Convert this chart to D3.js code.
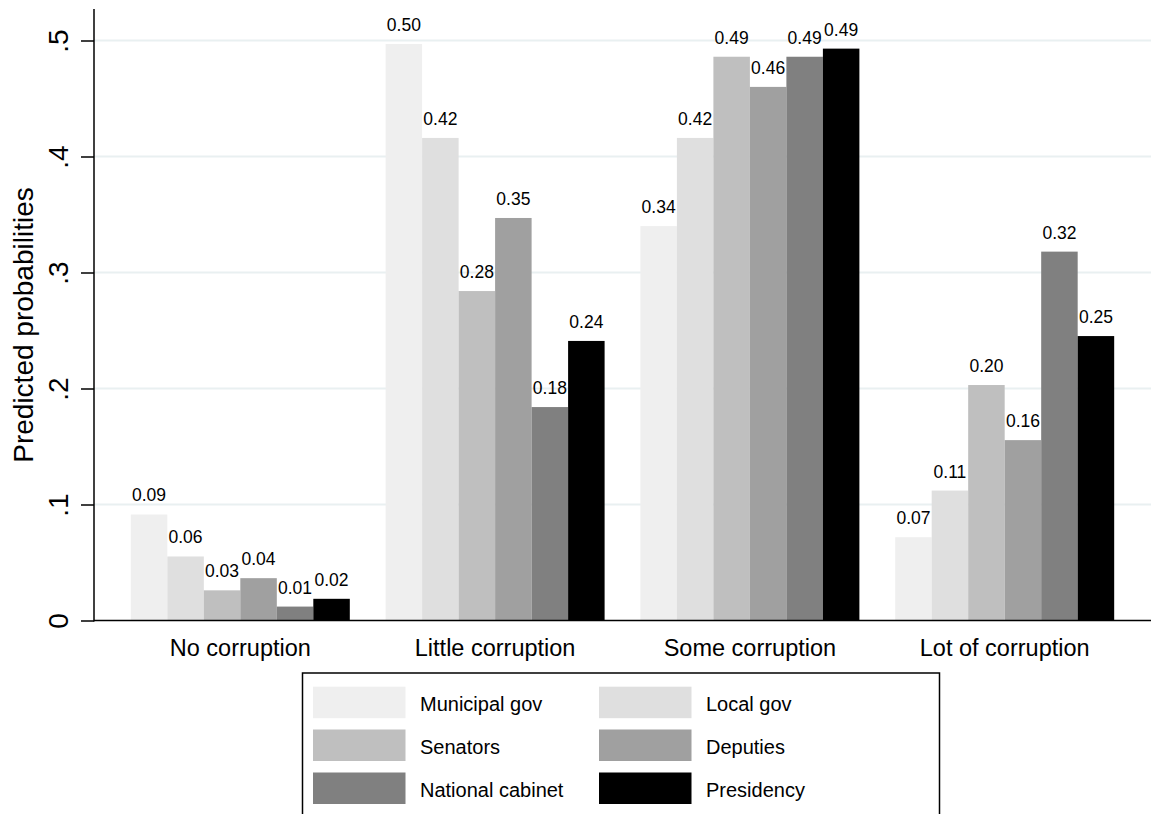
<!DOCTYPE html>
<html>
<head>
<meta charset="utf-8">
<script src="https://cdn.jsdelivr.net/npm/d3@7"></script>
<style>
  html, body { margin: 0; padding: 0; background: #ffffff; }
  svg { display: block; font-family: "Liberation Sans", Arial, sans-serif; }
</style>
</head>
<body>
<svg id="chart" width="1151" height="814"></svg>
<script>
// ---- data ----
const categories = ["No corruption", "Little corruption", "Some corruption", "Lot of corruption"];
const series = ["Municipal gov", "Local gov", "Senators", "Deputies", "National cabinet", "Presidency"];
const colors = ["#efefef", "#dfdfdf", "#bfbfbf", "#a0a0a0", "#808080", "#000000"];
// values[category][series]
const noCorruption     = [0.0914, 0.0552, 0.026, 0.0365, 0.012, 0.0187];
const littleCorruption = [0.497, 0.416, 0.284, 0.347, 0.184, 0.241];
const someCorruption   = [0.340, 0.416, 0.486, 0.460, 0.486, 0.493];
const lotCorruption    = [0.0718, 0.112, 0.203, 0.1555, 0.318, 0.2452];
const values = [noCorruption, littleCorruption, someCorruption, lotCorruption];
const yTicks = [0, 0.1, 0.2, 0.3, 0.4, 0.5];
const yTickLabels = ["0", ".1", ".2", ".3", ".4", ".5"];
const yTitle = "Predicted probabilities";

// ---- layout ----
const svg = d3.select("#chart");
const plotLeft = 94, plotRight = 1151, plotTop = 9, plotBottom = 620.5;

const y = d3.scaleLinear().domain([0, 0.5]).range([plotBottom, 40.5]);
const x0 = d3.scaleBand().domain(categories).range([plotLeft, plotRight])
  .paddingInner(0.1405).paddingOuter(0.1445);
const x1 = d3.scaleBand().domain(series).range([0, x0.bandwidth()]).padding(0);
const color = d3.scaleOrdinal().domain(series).range(colors);

// gridlines
svg.append("g").selectAll("line").data(yTicks.filter(d => d > 0)).join("line")
  .attr("x1", plotLeft).attr("x2", plotRight)
  .attr("y1", d => y(d)).attr("y2", d => y(d))
  .attr("stroke", "#e9f0f1").attr("stroke-width", 2);

// bars
const groups = svg.append("g").selectAll("g").data(categories).join("g")
  .attr("transform", d => `translate(${x0(d)},0)`);
groups.selectAll("rect").data((c, i) => series.map((s, j) => ({ s, v: values[i][j] }))).join("rect")
  .attr("x", d => x1(d.s)).attr("width", x1.bandwidth())
  .attr("y", d => y(d.v)).attr("height", d => y(0) - y(d.v))
  .attr("fill", d => color(d.s));
groups.selectAll("text").data((c, i) => series.map((s, j) => ({ s, v: values[i][j] }))).join("text")
  .attr("x", d => x1(d.s) + x1.bandwidth() / 2)
  .attr("y", d => y(d.v) - 13)
  .attr("text-anchor", "middle").attr("font-size", 17.5).attr("fill", "#000")
  .text(d => d3.format(".2f")(d.v));

// y axis
const yAxis = d3.axisLeft(y).tickValues(yTicks).tickSize(13).tickFormat((d, i) => yTickLabels[i]);
const gy = svg.append("g").attr("transform", `translate(${plotLeft},0)`).call(yAxis);
gy.select(".domain").attr("d", `M0,${plotTop}V${plotBottom + 1}`).attr("stroke", "#000").attr("stroke-width", 1.5);
gy.selectAll(".tick line").attr("stroke", "#000").attr("stroke-width", 1.5);
gy.selectAll(".tick text")
  .attr("x", null).attr("dy", null)
  .attr("transform", "translate(-26,0) rotate(-90)")
  .attr("text-anchor", "middle").attr("font-size", 28).attr("fill", "#000")
  .attr("font-family", "'Liberation Sans', Arial, sans-serif");

// x axis baseline + labels
const xAxis = d3.axisBottom(x0).tickSize(0).tickPadding(0);
const gx = svg.append("g").attr("transform", `translate(0,${plotBottom})`).call(xAxis);
gx.select(".domain").attr("d", `M${plotLeft},0H${plotRight}`).attr("stroke", "#000").attr("stroke-width", 1.5);
gx.selectAll(".tick text").attr("y", 35).attr("dy", null)
  .attr("font-size", 23.5).attr("fill", "#000")
  .attr("font-family", "'Liberation Sans', Arial, sans-serif");

// y title
svg.append("text").attr("transform", "translate(33,325) rotate(-90)")
  .attr("text-anchor", "middle").attr("font-size", 28).attr("fill", "#000")
  .text(yTitle);

// legend
const legend = svg.append("g");
legend.append("rect").attr("x", 302.5).attr("y", 673).attr("width", 637).attr("height", 160)
  .attr("fill", "#fff").attr("stroke", "#000").attr("stroke-width", 1.5);
const colX = [313, 599], rowY = [686.7, 729.5, 772.5];
const items = legend.selectAll("g.item").data(series).join("g").attr("class", "item")
  .attr("transform", (d, i) => `translate(${colX[i % 2]},${rowY[Math.floor(i / 2)]})`);
items.append("rect").attr("width", 92.5).attr("height", 31.5).attr("fill", d => color(d));
items.append("text").attr("x", 107).attr("y", 24).attr("font-size", 20).attr("fill", "#000").text(d => d);
</script>
</body>
</html>
